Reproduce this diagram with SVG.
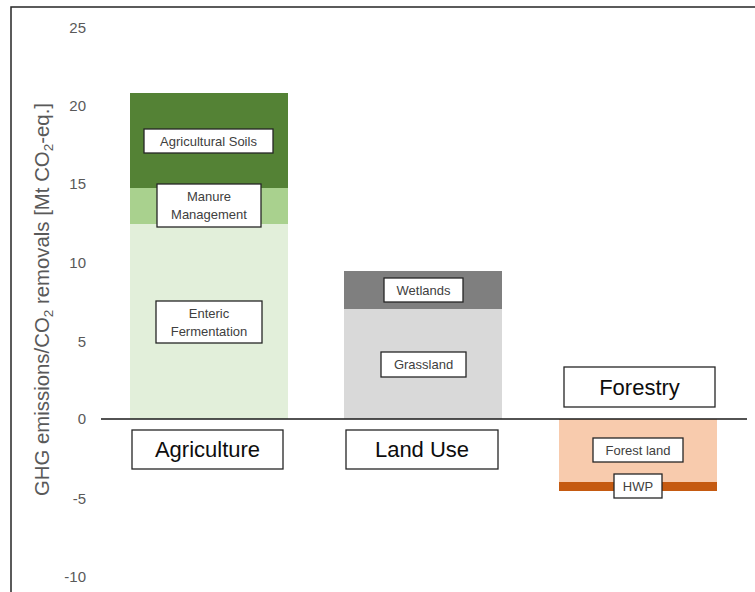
<svg xmlns="http://www.w3.org/2000/svg" width="755" height="592" viewBox="0 0 755 592">
<style>
.tick{font-family:"Liberation Sans",Arial,sans-serif;font-size:15px;fill:#595959;text-anchor:end}
.lbl{fill:#ffffff;stroke:#262626;stroke-width:1.3}
.st{font-family:"Liberation Sans",Arial,sans-serif;font-size:13px;fill:#404040;text-anchor:middle}
.big{font-family:"Liberation Sans",Arial,sans-serif;font-size:22px;fill:#0d0d0d;text-anchor:middle}
.ttl{font-family:"Liberation Sans",Arial,sans-serif;font-size:19.5px;fill:#595959}
</style>
<rect x="0" y="0" width="755" height="592" fill="#ffffff"/>
<rect x="11" y="7" width="760" height="600" fill="none" stroke="#262626" stroke-width="1.5"/>
<g id="axis">
<text class="tick" x="86" y="33">25</text>
<text class="tick" x="86" y="111">20</text>
<text class="tick" x="86" y="189">15</text>
<text class="tick" x="86" y="268">10</text>
<text class="tick" x="86" y="347">5</text>
<text class="tick" x="86" y="424">0</text>
<text class="tick" x="86" y="504">-5</text>
<text class="tick" x="86" y="582">-10</text>
<text class="ttl" transform="translate(49,496) rotate(-90)" textLength="393" lengthAdjust="spacingAndGlyphs">GHG emissions/CO<tspan font-size="13" dy="4">2</tspan><tspan dy="-4"> removals [Mt CO</tspan><tspan font-size="13" dy="4">2</tspan><tspan dy="-4">-eq.]</tspan></text>
</g>
<g id="bar-agriculture">
<rect x="130" y="93" width="158" height="95" fill="#548235"/>
<rect x="130" y="188" width="158" height="36" fill="#a9d18e"/>
<rect x="130" y="224" width="158" height="195" fill="#e2efda"/>
</g>
<g id="bar-landuse">
<rect x="344" y="271" width="158" height="38" fill="#7f7f7f"/>
<rect x="344" y="309" width="158" height="110" fill="#d9d9d9"/>
</g>
<g id="bar-forestry">
<rect x="559" y="419" width="158" height="63" fill="#f8cbad"/>
<rect x="559" y="482" width="158" height="9" fill="#c55a11"/>
</g>
<g id="connectors">
<line x1="101" y1="419" x2="747" y2="419" stroke="#1a1a1a" stroke-width="1.5"/>
</g>
<g id="agricultural-soils"><rect class="lbl" x="144" y="129" width="129" height="24"/><text class="st" x="208.5" y="146">Agricultural Soils</text></g>
<g id="manure-management"><rect class="lbl" x="157" y="184" width="104" height="43"/><text class="st" x="209" y="201">Manure</text><text class="st" x="209" y="219">Management</text></g>
<g id="enteric-fermentation"><rect class="lbl" x="156" y="301" width="106" height="42"/><text class="st" x="209" y="318">Enteric</text><text class="st" x="209" y="336">Fermentation</text></g>
<g id="agriculture"><rect class="lbl" x="132" y="430" width="151" height="39"/><text class="big" x="207.5" y="457">Agriculture</text></g>
<g id="wetlands"><rect class="lbl" x="384" y="278" width="79" height="24"/><text class="st" x="423.5" y="295">Wetlands</text></g>
<g id="grassland"><rect class="lbl" x="381" y="352" width="85" height="25"/><text class="st" x="423.5" y="369">Grassland</text></g>
<g id="land-use"><rect class="lbl" x="346" y="430" width="152" height="39"/><text class="big" x="422" y="457">Land Use</text></g>
<g id="forestry"><rect class="lbl" x="564" y="367" width="151" height="40"/><text class="big" x="639.5" y="395">Forestry</text></g>
<g id="forest-land"><rect class="lbl" x="593" y="438" width="90" height="24"/><text class="st" x="638" y="455">Forest land</text></g>
<g id="hwp"><rect class="lbl" x="614" y="474" width="48" height="24"/><text class="st" x="638" y="491">HWP</text></g>
</svg>
